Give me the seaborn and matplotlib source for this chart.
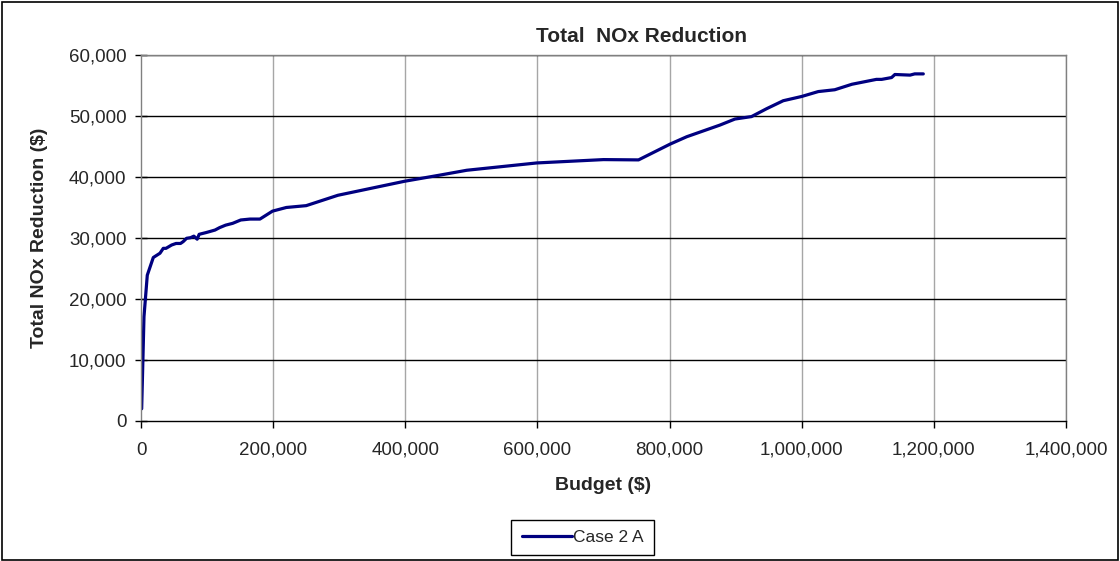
import matplotlib
matplotlib.use("Agg")
import matplotlib.pyplot as plt
from matplotlib.patches import Rectangle
from matplotlib.ticker import FuncFormatter, MultipleLocator
import pandas as pd
import seaborn as sns

# Budget spent ($) and the cumulative NOx reduction it buys
budget = [1000, 4500, 9500, 18600, 28700, 33700, 37800, 46400, 53000, 59800,
          63800, 69000, 75000, 80000, 85000, 88000, 99000, 112000, 119000,
          128000, 138700, 151000, 165000, 180000, 199000, 220000, 250000,
          298000, 399000, 452000, 493000, 599000, 700000, 753000, 801000,
          826000, 876000, 899000, 924000, 947000, 972000, 1000000, 1025000,
          1050000, 1076000, 1113000, 1121000, 1136000, 1141000, 1164000,
          1171000, 1184000]
reduction = [2000, 17100, 23900, 26800, 27500, 28300, 28300, 28850, 29100,
             29100, 29400, 29950, 30050, 30300, 29800, 30600, 30900, 31300,
             31700, 32100, 32400, 32950, 33100, 33100, 34400, 35000, 35300,
             37000, 39300, 40300, 41100, 42300, 42850, 42800, 45400, 46600,
             48500, 49500, 49900, 51200, 52500, 53200, 54000, 54300, 55200,
             56000, 56000, 56300, 56800, 56700, 56900, 56900]
series_name = "Case 2 A"

df = pd.DataFrame({"Budget": budget, "Reduction": reduction,
                   "Series": [series_name] * len(budget)})

sns.set_style("white")
plt.rcParams["font.family"] = ["Liberation Sans", "DejaVu Sans"]

fig = plt.figure(figsize=(11.2, 5.61), dpi=100)
ax = fig.add_axes([0.1259, 0.2496, 0.9518 - 0.1259, 0.902 - 0.2496])

sns.lineplot(data=df, x="Budget", y="Reduction", hue="Series",
             palette=["#000080"], linewidth=2.3, estimator=None, ax=ax,
             legend=True)

ax.set_xlim(0, 1400000)
ax.set_ylim(0, 60000)
ax.xaxis.set_major_locator(MultipleLocator(200000))
ax.yaxis.set_major_locator(MultipleLocator(10000))
fmt = FuncFormatter(lambda v, p: f"{int(v):,}")
ax.xaxis.set_major_formatter(fmt)
ax.yaxis.set_major_formatter(fmt)

# Grid: black horizontal lines, grey vertical lines
ax.grid(False)
for yv in range(10000, 60001, 10000):
    ax.axhline(yv, color="black", linewidth=1.0, zorder=0.5)
for xv in range(200000, 1400001, 200000):
    ax.axvline(xv, color="#a6a6a6", linewidth=1.0, zorder=0.4)

for side in ["left", "top", "right"]:
    ax.spines[side].set_color("#808080")
    ax.spines[side].set_linewidth(1.0)
ax.spines["bottom"].set_color("black")
ax.spines["bottom"].set_linewidth(1.0)

ax.tick_params(axis="x", direction="out", length=5, width=1, color="black",
               labelsize=13.5, pad=10, bottom=True)
ax.tick_params(axis="y", direction="inout", length=9, width=1, color="black",
               labelsize=13.5, pad=6, left=True)

ax.set_xlabel("Budget ($)", fontsize=14, fontweight="bold")
ax.set_ylabel("Total NOx Reduction ($)", fontsize=14, fontweight="bold")
ax.xaxis.set_label_coords(0.5, -0.152)
ax.yaxis.set_label_coords(-0.101, 0.5)

fig.text(642 / 1120, 1 - 36 / 561, "Total  NOx Reduction", ha="center",
         va="center", fontsize=15, fontweight="bold")

handles, labels = ax.get_legend_handles_labels()
ax.legend(handles, labels, loc="center", bbox_to_anchor=(582.5 / 1120, 1 - 537.5 / 561),
          bbox_transform=fig.transFigure, frameon=True, fancybox=False,
          edgecolor="black", framealpha=1, fontsize=12.5, handlelength=2.9,
          handletextpad=0.05, borderpad=0.6, borderaxespad=0)
ax.get_legend().get_frame().set_linewidth(1.0)

# Outer chart border
fig.patches.append(Rectangle((0.002, 0.002), 0.996, 0.995, transform=fig.transFigure,
                             fill=False, edgecolor="black", linewidth=1.2))

fig.savefig("out.png", dpi=100)
